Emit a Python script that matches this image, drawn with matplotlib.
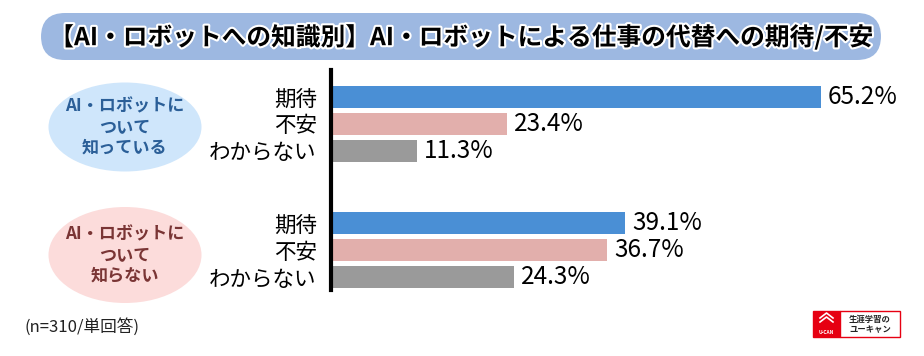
import matplotlib.pyplot as plt
import matplotlib.patheffects as pe
from matplotlib.patches import Ellipse, FancyBboxPatch, Rectangle

plt.rcParams['font.family'] = ['Noto Sans CJK JP', 'DejaVu Sans']

# データ
title = "【AI・ロボットへの知識別】AI・ロボットによる仕事の代替への期待/不安"
groups = ["AI・ロボットに\nついて\n知っている", "AI・ロボットに\nついて\n知らない"]
answers = ["期待", "不安", "わからない"]
values_know = [65.2, 23.4, 11.3]
values_dont = [39.1, 36.7, 24.3]
note = "(n=310/単回答)"

bar_colors = ["#4a8fd5", "#e2afac", "#9a9a9a"]

W, H = 924, 356
fig = plt.figure(figsize=(W / 100, H / 100), dpi=100)

# 背景用の座標（ピクセル）
bg = fig.add_axes([0, 0, 1, 1])
bg.set_xlim(0, W)
bg.set_ylim(H, 0)
bg.axis("off")

# タイトル帯
bg.add_patch(FancyBboxPatch((17 + 24, 13), 888 - 48, 47,
                            boxstyle="round,pad=0,rounding_size=24",
                            mutation_aspect=1, fc="#9db8e1", ec="none"))
bg.text(462, 37, title, ha="center", va="center", fontsize=17.8, fontweight="bold",
        color="black", path_effects=[pe.withStroke(linewidth=3, foreground="white")])

# 左の楕円
ell_style = [((125, 127), 153, 89, "#cfe6fb", "#2b5f98"),
             ((125, 255), 153, 96, "#fcdcdb", "#7a3535")]
for (c, w, h, fc, tc), g in zip(ell_style, groups):
    bg.add_patch(Ellipse(c, w, h, fc=fc, ec="none"))
    bg.text(c[0], c[1], g, ha="center", va="center", fontsize=12.3,
            color=tc, linespacing=1.2, fontweight="bold")

bg.text(24, 327, note, ha="left", va="center", fontsize=12, color="#222222")

# ロゴ
bg.add_patch(Rectangle((813, 311), 27, 26, fc="#e60012", ec="#e60012", lw=1))
bg.add_patch(Rectangle((840, 311), 60, 26, fc="white", ec="#e60012", lw=1))
for dy in (0, 4):
    bg.plot([820, 826.5, 833], [322 - dy, 317 - dy, 322 - dy], color="white", lw=1.2)
bg.text(826.5, 332, "U-CAN", ha="center", va="center", fontsize=3.5, color="white",
        fontweight="bold")
bg.text(870, 319, "生涯学習の", ha="center", va="center", fontsize=6, color="#222222",
        fontweight="bold")
bg.text(870, 330, "ユーキャン", ha="center", va="center", fontsize=6, color="#222222",
        fontweight="bold")

# 棒グラフ
x0, x1 = 332, 905
y_top, y_bot = 70, 290
ax = fig.add_axes([x0 / W, 1 - y_bot / H, (x1 - x0) / W, (y_bot - y_top) / H])
px_per_pct = 7.5
ax.set_xlim(0, (x1 - x0) / px_per_pct)

gap = 2.67
rows = []
labels = []
for gi, vals in enumerate([values_know, values_dont]):
    for i, (a, v) in enumerate(zip(answers, vals)):
        y = gi * (len(answers) - 1 + gap) + i
        rows.append(y)
        labels.append(a)
        ax.barh(y, v, height=0.81, color=bar_colors[i])
        ax.text(v + 0.9, y, f"{v:.1f}%", ha="left", va="center", fontsize=17.5,
                color="black")

ax.set_ylim(rows[-1] + 0.48, -1.0)
ax.set_yticks(rows)
ax.set_yticklabels(labels)
ax.tick_params(axis="y", length=0, pad=10, labelsize=15.5)
for t in ax.get_yticklabels():
    t.set_fontweight("bold")
ax.set_xticks([])
for s in ["top", "right", "bottom"]:
    ax.spines[s].set_visible(False)
ax.spines["left"].set_linewidth(3)
ax.spines["left"].set_position(("outward", 1))
ax.patch.set_alpha(0)

fig.savefig("out.png", dpi=100)
